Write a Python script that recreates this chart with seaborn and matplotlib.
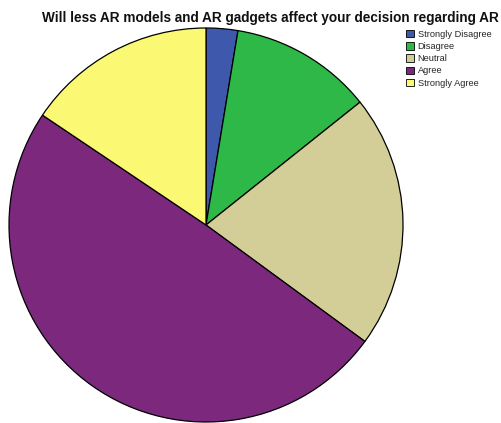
import matplotlib
matplotlib.use("Agg")
import matplotlib.pyplot as plt
import seaborn as sns
from matplotlib.patches import Patch

sns.set_theme(style="white")
plt.rcParams['font.family'] = ['Liberation Sans', 'DejaVu Sans']

categories = ["Strongly Disagree", "Disagree", "Neutral", "Agree", "Strongly Agree"]
counts = [2, 9, 16, 38, 12]
colors = ["#3E58AC", "#2EB848", "#D3CE97", "#7B287D", "#FBF873"]
title = "Will less AR models and AR gadgets affect your decision regarding AR"

fig = plt.figure(figsize=(5.02, 4.23), dpi=100)
ax = fig.add_axes([9/502, 1/423, 394/502, 394/423])
ax.pie(counts, colors=colors, startangle=90, counterclock=False,
       wedgeprops=dict(edgecolor="black", linewidth=0.9))
ax.set_aspect("auto")
ax.set_xlim(-1, 1)
ax.set_ylim(-1, 1)
ax.axis("off")

fig.text(42/502, 1 - 18/423, title, ha="left", va="center",
         fontsize=9.8, fontweight="bold", color="#111111")

handles = [Patch(facecolor=c, edgecolor="black", linewidth=0.6) for c in colors]
fig.legend(handles, categories, loc="upper left", bbox_to_anchor=(406/502, 1 - 30/423),
           frameon=False, fontsize=6.7, handlelength=0.85, handleheight=0.85,
           handletextpad=0.4, labelspacing=0.34, borderaxespad=0, borderpad=0)

fig.savefig("out.png", dpi=100, facecolor="white")
